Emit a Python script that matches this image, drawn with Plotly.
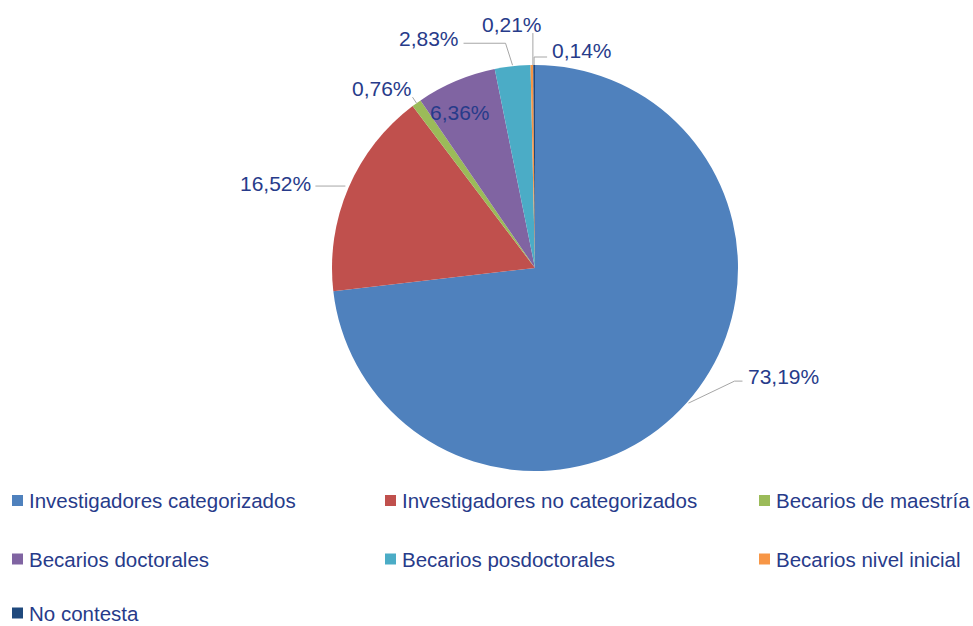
import math
import plotly.graph_objects as go

# ---- data ----
categories = ["Investigadores categorizados", "Investigadores no categorizados",
              "Becarios de maestría", "Becarios doctorales", "Becarios posdoctorales",
              "Becarios nivel inicial", "No contesta"]
values = [73.19, 16.52, 0.76, 6.36, 2.83, 0.21, 0.14]
colors = ["#4F81BD", "#C0504D", "#9BBB59", "#8064A2", "#4BACC6", "#F79646", "#1F497D"]

# ---- layout / styles ----
W, H = 973, 626
cx, cy, r = 535, 268, 203
FONT = "Liberation Sans, Arial"
TXT = "#273B8A"

# label placement relative to the outer edge point at each slice's mid-angle
# (text offset dx, dy, xanchor, leader polyline offsets)
label_style = [
    (60, -27, "left", [(2, 0), (48, -22), (56, -22)]),
    (-35, -5, "right", [(-3, -2), (-33, -2)]),
    (-3, -15, "right", [(0, 0), (-4, -6)]),
    (4, 32, "center", []),
    (-52, -28, "right", [(0, -1), (-7, -23), (-49, -23)]),
    (-20, -41, "center", [(1, 0), (1, -32)]),
    (16, -15, "left", [(0, 0), (0, -8), (13, -8)]),
]
legend_cols = [12, 385, 759]
legend_rows = [500.5, 559, 613]
legend_order = [(0, 0, 0), (1, 0, 1), (2, 0, 2), (3, 1, 0), (4, 1, 1), (5, 1, 2), (6, 2, 0)]


def px(x):
    return x / W


def py(y):
    return 1 - y / H


fig = go.Figure(go.Pie(
    labels=categories, values=values, sort=False, direction="clockwise", rotation=0,
    marker=dict(colors=colors, line=dict(width=0)),
    textposition="none", hoverinfo="label+percent",
    domain=dict(x=[px(cx - r), px(cx + r)], y=[py(cy + r), py(cy - r)]),
    showlegend=False,
))

total = sum(values)
annotations, shapes = [], []
cum = 0.0
for v, (dx, dy, xa, leader) in zip(values, label_style):
    mid = (cum + v / 2) / total
    cum += v
    th = 2 * math.pi * mid
    ax, ay = cx + r * math.sin(th), cy - r * math.cos(th)
    txt = f"{v:.2f}%".replace(".", ",")
    annotations.append(dict(x=px(ax + dx), y=py(ay + dy), xref="paper", yref="paper",
                            text=txt, showarrow=False, xanchor=xa, yanchor="middle",
                            font=dict(family=FONT, size=21, color=TXT)))
    if leader:
        path = "M " + " L ".join(f"{px(ax + ox)},{py(ay + oy)}" for ox, oy in leader)
        shapes.append(dict(type="path", path=path, xref="paper", yref="paper",
                           line=dict(color="#A6A6A6", width=1)))

# legend drawn from categories/colours
sq = 11
for i, row, col in legend_order:
    x0, yc = legend_cols[col], legend_rows[row]
    shapes.append(dict(type="rect", xref="paper", yref="paper",
                       x0=px(x0), x1=px(x0 + sq), y0=py(yc + sq / 2), y1=py(yc - sq / 2),
                       fillcolor=colors[i], line=dict(width=0)))
    annotations.append(dict(x=px(x0 + sq + 4), y=py(yc), xref="paper", yref="paper",
                            text=categories[i], showarrow=False, xanchor="left",
                            yanchor="middle",
                            font=dict(family=FONT, size=20.5, color=TXT)))

fig.update_layout(
    width=W, height=H, margin=dict(l=0, r=0, t=0, b=0),
    paper_bgcolor="white", plot_bgcolor="white",
    annotations=annotations, shapes=shapes, showlegend=False,
)
fig.write_html("out.html", config={"displayModeBar": False},
               post_script="document.body.style.margin='0';document.body.style.overflow='hidden';")
